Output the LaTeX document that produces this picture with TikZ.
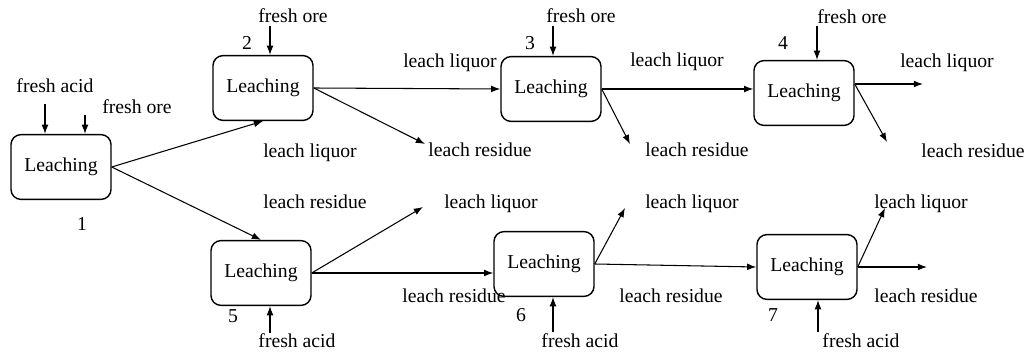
\documentclass[tikz,border=0pt]{standalone}
\usepackage{fontspec}
\setmainfont{Liberation Serif}
\usetikzlibrary{positioning,arrows.meta}

\begin{document}
\begin{tikzpicture}[
  x=0.025cm, y=-0.025cm,
  font=\fontsize{14}{16}\selectfont,
  lbox/.style={draw, line width=1pt, rounded corners=2.5mm, minimum width=2.5cm, minimum height=1.62cm, align=center},
  farr/.style={-{Latex[length=2.3mm,width=1.7mm]}, line width=0.75pt},
  lbl/.style={inner sep=0pt, text height=1.6ex, text depth=0.4ex}
]
  \useasboundingbox (0,0) rectangle (1035,353);

  % leaching stages
  \node[lbox] (s1) at (61,167) {Leaching};
  \node[lbox] (s2) at (263,88) {Leaching};
  \node[lbox] (s3) at (551,89) {Leaching};
  \node[lbox] (s4) at (804,93) {Leaching};
  \node[lbox] (s5) at (261,273) {Leaching};
  \node[lbox] (s6) at (544,264) {Leaching};
  \node[lbox] (s7) at (807,267) {Leaching};

  % stage numbers
  \node[lbl] (n1) at (82,227) {1};
  \node[lbl] (n2) at (247,46) {2};
  \node[lbl] (n3) at (530,46) {3};
  \node[lbl] (n4) at (783,46) {4};
  \node[lbl] (n5) at (233,319) {5};
  \node[lbl] (n6) at (521,318) {6};
  \node[lbl] (n7) at (773,318) {7};

  % feeds
  \node[lbl] (fa1) at (55,89) {fresh acid};
  \node[lbl] (fo1) at (137,110) {fresh ore};
  \node[lbl] (fo2) at (293,19) {fresh ore};
  \node[lbl] (fo3) at (581,19) {fresh ore};
  \node[lbl] (fo4) at (852,20) {fresh ore};
  \node[lbl] (fa5) at (297,344) {fresh acid};
  \node[lbl] (fa6) at (580,344) {fresh acid};
  \node[lbl] (fa7) at (861,344) {fresh acid};
  \coordinate (a1) at (45,104);
  \coordinate (o1) at (85,115);
  \coordinate (o2) at (270,26);
  \coordinate (o3) at (553,26);
  \coordinate (o4) at (817,26);
  \coordinate (a5) at (270,333);
  \coordinate (a6) at (553,332);
  \coordinate (a7) at (818,332);
  \draw[farr] (a1) -- (a1 |- s1.north);
  \draw[farr] (o1) -- (o1 |- s1.north);
  \draw[farr] (o2) -- (o2 |- s2.north);
  \draw[farr] (o3) -- (o3 |- s3.north);
  \draw[farr] (o4) -- (o4 |- s4.north);
  \draw[farr] (a5) -- (a5 |- s5.south);
  \draw[farr] (a6) -- (a6 |- s6.south);
  \draw[farr] (a7) -- (a7 |- s7.south);

  % products
  \node[lbl] (l1) at (310,154) {leach liquor};
  \node[lbl] (r1) at (315,205) {leach residue};
  \node[lbl] (l2) at (450,64) {leach liquor};
  \node[lbl] (r2) at (480,153) {leach residue};
  \node[lbl] (l3) at (677,63) {leach liquor};
  \node[lbl] (r3) at (697,153) {leach residue};
  \node[lbl] (l4) at (947,64) {leach liquor};
  \node[lbl] (r4) at (973,154) {leach residue};
  \node[lbl] (l5) at (491,205) {leach liquor};
  \node[lbl] (r5) at (454,299) {leach residue};
  \node[lbl] (l6) at (692,205) {leach liquor};
  \node[lbl] (r6) at (671,299) {leach residue};
  \node[lbl] (l7) at (921,205) {leach liquor};
  \node[lbl] (r7) at (926,299) {leach residue};
  \coordinate (e2) at (425,144);
  \coordinate (e3) at (630,144);
  \coordinate (q4) at (923,84);
  \coordinate (e4) at (887,142);
  \coordinate (q5) at (423,207);
  \coordinate (q6) at (625,208);
  \coordinate (q7) at (885,208);
  \coordinate (e7) at (927,268);

  \draw[farr] (s1.east) -- (s2.south);
  \draw[farr] (s1.east) -- (s5.north);
  \draw[farr] (s2.east) -- (s3.west);
  \draw[farr] (s2.east) -- (e2);
  \draw[farr] (s3.east) -- (s3.east -| s4.west);
  \draw[farr] (s3.east) -- (e3);
  \draw[farr] (s4.east |- q4) -- (q4);
  \draw[farr] (s4.east |- q4) -- (e4);
  \draw[farr] (s5.east) -- (s5.east -| s6.west);
  \draw[farr] (s5.east) -- (q5);
  \draw[farr] (s6.east) -- (s7.west);
  \draw[farr] (s6.east) -- (q6);
  \draw[farr] (s7.east) -- (q7);
  \draw[farr] (s7.east) -- (s7.east -| e7);
\end{tikzpicture}
\end{document}
